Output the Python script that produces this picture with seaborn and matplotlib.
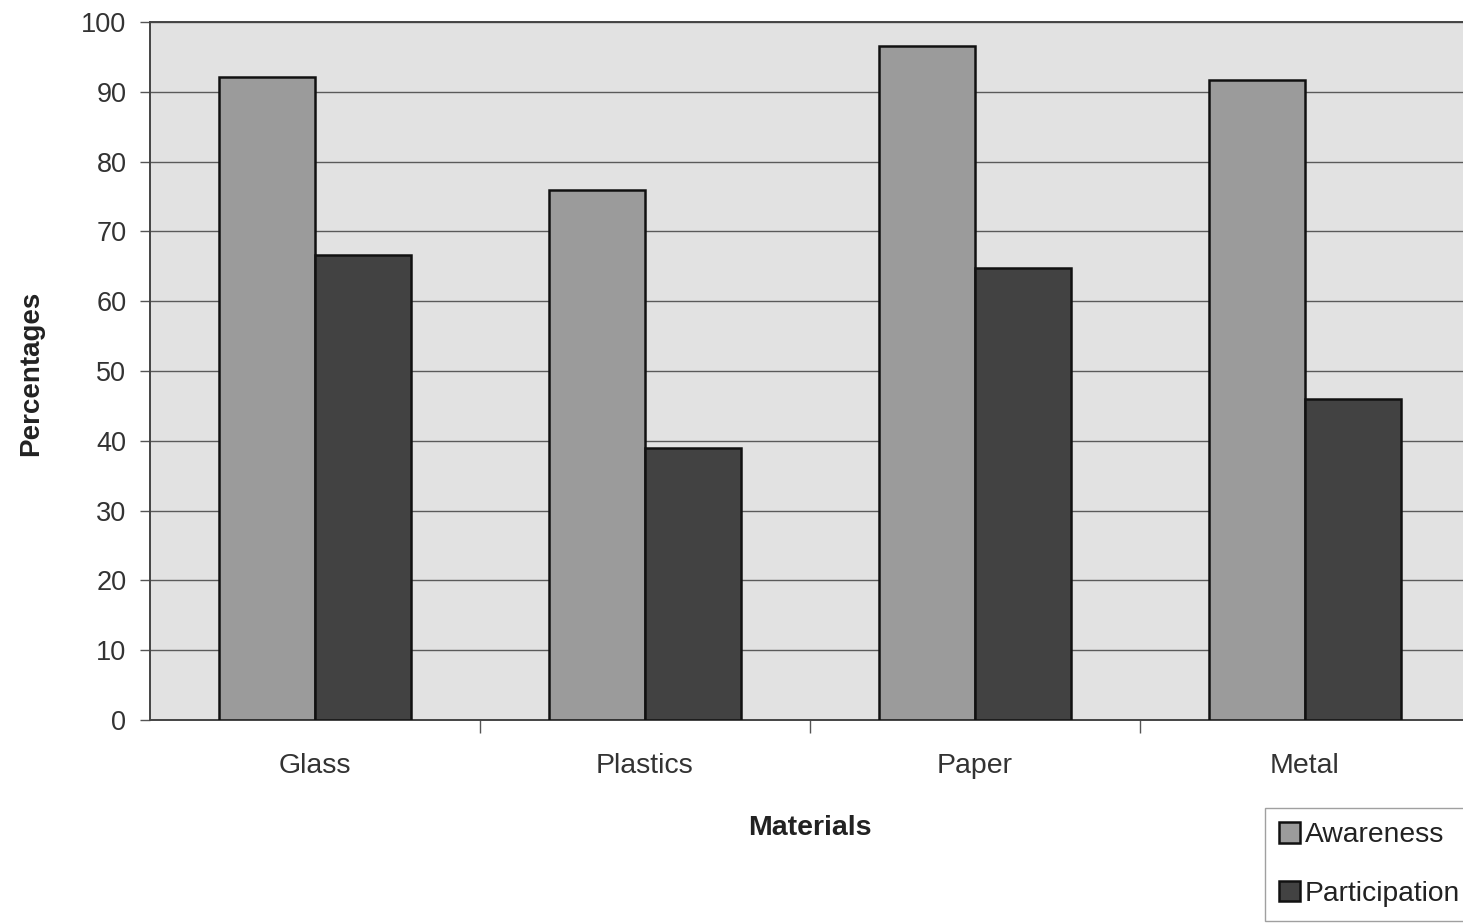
import matplotlib
matplotlib.use("Agg")
import matplotlib.pyplot as plt
import seaborn as sns
import pandas as pd

# Recycling survey results by material
materials = ["Glass", "Plastics", "Paper", "Metal"]
awareness = [92.1, 76.0, 96.6, 91.7]
participation = [66.6, 39.0, 64.8, 46.0]
series_names = ["Awareness", "Participation"]
y_ticks = [0, 10, 20, 30, 40, 50, 60, 70, 80, 90, 100]

df = pd.DataFrame({
    "Materials": materials * 2,
    "Percentages": awareness + participation,
    "Series": [series_names[0]] * len(materials) + [series_names[1]] * len(materials),
})

sns.set_theme(style="white")
plt.rcParams["font.family"] = ["Liberation Sans", "DejaVu Sans"]

fig = plt.figure(figsize=(14.63, 9.24), dpi=100)
ax = fig.add_axes([150 / 1463, 1 - 720 / 924, 1320 / 1463, 698 / 924])
ax.set_facecolor("#e2e2e2")

palette = {"Awareness": "#9b9b9b", "Participation": "#424242"}
sns.barplot(
    data=df, x="Materials", y="Percentages", hue="Series",
    order=materials, hue_order=series_names, palette=palette,
    width=0.58, gap=0, edgecolor="#111111", linewidth=1.8,
    saturation=1, ax=ax, legend=True, zorder=3,
)

ax.set_xlim(-0.5, len(materials) - 0.5)
ax.set_ylim(0, 100)
ax.set_yticks(y_ticks)
ax.yaxis.grid(True, color="#5a5a5a", linewidth=1.0, zorder=0)
ax.set_axisbelow(True)

# Category separators below the baseline
ax.set_xticks([i + 0.5 for i in range(len(materials) - 1)], minor=True)
ax.tick_params(axis="x", which="minor", length=9, width=1, color="#555555",
               direction="out", bottom=True)
ax.tick_params(axis="x", which="major", length=0, pad=24, labelsize=20.5,
               labelcolor="#333333")
ax.tick_params(axis="y", length=7, width=1, color="#555555", direction="out",
               left=True, pad=10, labelsize=19.5, labelcolor="#333333")

for side in ["left", "bottom", "top", "right"]:
    ax.spines[side].set_color("#444444")
    ax.spines[side].set_linewidth(1.4)

ax.set_xlabel("Materials", fontsize=20.5, fontweight="bold", color="#222222",
              labelpad=26)
ax.set_ylabel("Percentages", fontsize=20, fontweight="bold", color="#222222")
ax.yaxis.set_label_coords(-0.0805, 0.496)

handles, labels = ax.get_legend_handles_labels()
ax.legend_.remove()
leg = fig.legend(
    handles, labels, loc="upper left",
    bbox_to_anchor=(1265 / 1463, 1 - 808 / 924),
    fontsize=20.3, frameon=True, fancybox=False, edgecolor="#888888",
    handlelength=0.75, handleheight=0.75, handletextpad=0.15,
    labelspacing=1.15, borderpad=0.5, borderaxespad=0, labelcolor="#222222",
)
leg.get_frame().set_linewidth(1.0)

fig.savefig("out.png", dpi=100, facecolor="white")
